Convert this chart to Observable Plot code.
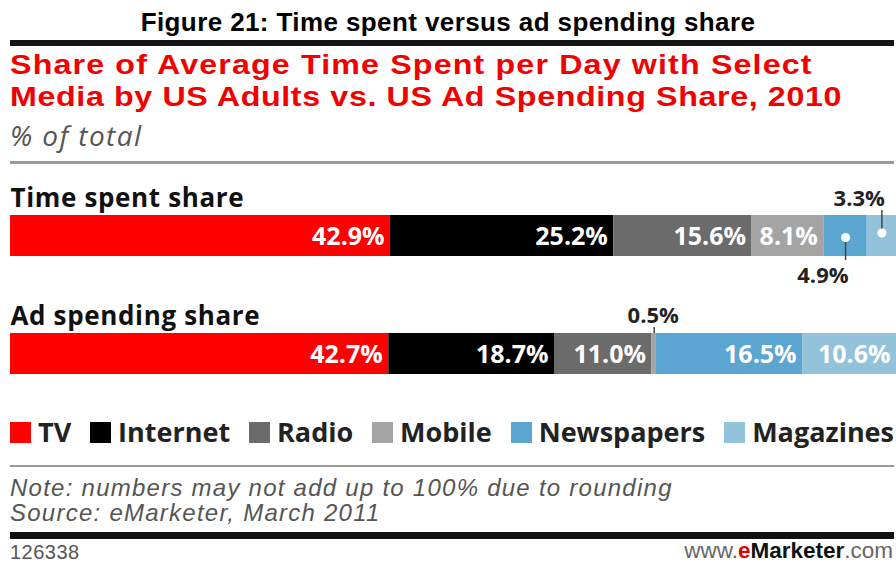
<!DOCTYPE html>
<html>
<head>
<meta charset="utf-8">
<script src="https://cdn.jsdelivr.net/npm/d3@7"></script>
<script src="https://cdn.jsdelivr.net/npm/@observablehq/plot@0.6"></script>
<style>
  html, body { margin: 0; padding: 0; background: #fff; }
  body { width: 896px; height: 563px; position: relative; overflow: hidden; font-family: "Open Sans", sans-serif; }
  .abs { position: absolute; white-space: nowrap; }
  #fig { left: 0; width: 896px; top: 9px; text-align: center; font: bold 26px/26px "Liberation Sans", Arial, sans-serif; letter-spacing: 0.4px; color: #000; }
  .rule { position: absolute; left: 10px; width: 884px; }
  #topThick { top: 40px; height: 6px; background: #161616; }
  #subThin { top: 161px; height: 3px; background: #9a9a9a; }
  #botThin { top: 465px; height: 2px; background: #9a9a9a; }
  #botThick { top: 532px; height: 7px; background: #111; }
  .red { left: 10px; font: bold 28px/32px "Liberation Sans", Arial, sans-serif; color: #f20000; transform: scaleX(1.15); transform-origin: 0 0; }
  #red1 { top: 49px; letter-spacing: 1px; }
  #red2 { top: 81px; letter-spacing: 0.55px; }
  #unit { left: 10px; top: 121px; font: italic 28px/28px "Open Sans", sans-serif; color: #555; letter-spacing: 1.4px; }
  #chart { position: absolute; left: 0; top: 165px; }
  #legend { position: absolute; left: 10px; width: 884px; top: 418px; height: 28px; display: flex; justify-content: space-between; align-items: center; font: bold 27px/28px "Open Sans", sans-serif; color: #222; }
  #legend .item { display: flex; align-items: center; }
  #legend .item i { display: inline-block; width: 21px; height: 21px; margin-right: 7px; }
  .note { left: 10px; font: italic 24px/24px "Liberation Sans", Arial, sans-serif; color: #555; letter-spacing: 1.25px; }
  #note1 { top: 476px; }
  #note2 { top: 501px; }
  #footId { left: 10px; top: 542px; font: 20px/20px "Liberation Sans", Arial, sans-serif; color: #555; letter-spacing: 0.5px; }
  #footUrl { right: 3px; top: 540px; font: 22.5px/22px "Liberation Sans", Arial, sans-serif; color: #666; }
  #footUrl b.e { color: #e00000; }
  #footUrl b.m { color: #111; }
</style>
</head>
<body>
<div id="fig" class="abs">Figure 21: Time spent versus ad spending share</div>
<div id="topThick" class="rule"></div>
<div id="red1" class="abs red">Share of Average Time Spent per Day with Select</div>
<div id="red2" class="abs red">Media by US Adults vs. US Ad Spending Share, 2010</div>
<div id="unit" class="abs">% of total</div>
<div id="subThin" class="rule"></div>
<div id="chart"></div>
<div id="legend"></div>
<div id="botThin" class="rule"></div>
<div id="note1" class="abs note">Note: numbers may not add up to 100% due to rounding</div>
<div id="note2" class="abs note">Source: eMarketer, March 2011</div>
<div id="botThick" class="rule"></div>
<div id="footId" class="abs">126338</div>
<div id="footUrl" class="abs">www.<b class="e">e</b><b class="m">Marketer</b>.com</div>
<script>
// ---- data ----
const media = ["TV", "Internet", "Radio", "Mobile", "Newspapers", "Magazines"];
const colors = ["#ff0000", "#000000", "#6b6b6b", "#a4a4a4", "#5ba6d1", "#93c3da"];
const rows = ["Time spent share", "Ad spending share"];
const timeSpent = [42.9, 25.2, 15.6, 8.1, 4.9, 3.3];
const adSpending = [42.7, 18.7, 11.0, 0.5, 16.5, 10.6];

// build table (stack offsets computed from the values)
const data = [];
[timeSpent, adSpending].forEach((vals, i) => {
  let c = 0;
  vals.forEach((v, j) => {
    data.push({row: rows[i], media: media[j], value: v, x1: c, x2: c + v, mid: c + v / 2});
    c += v;
  });
});
const fmt = d => d.value.toFixed(1) + "%";
const inside = data.filter(d => d.value >= 6);
const small = data.filter(d => d.value < 6);
const timeBelow = small.filter(d => d.row === rows[0] && d.media === "Newspapers");
const timeAbove = small.filter(d => d.row === rows[0] && d.media === "Magazines");
const adAbove = small.filter(d => d.row === rows[1]);

const labelFont = {fontFamily: "Open Sans, sans-serif", fontWeight: "bold"};

const chart = Plot.plot({
  width: 896,
  height: 235,
  margin: 0,
  style: {background: "transparent", overflow: "visible"},
  x: {domain: [0, 100], range: [10, 896], axis: null},
  y: {domain: rows, range: [50, 209], paddingInner: 0.653, paddingOuter: 0, axis: null},
  color: {domain: media, range: colors},
  marks: [
    Plot.barX(data, {x1: "x1", x2: "x2", y: "row", fill: "media"}),
    // row titles
    Plot.text(rows, {x: () => 0, y: d => d, text: d => d, textAnchor: "start", lineAnchor: "bottom", dy: -29.5, fontSize: 26, fill: "#111", ...labelFont}),
    // inside labels
    Plot.text(inside, {x: "x2", y: "row", text: fmt, fill: "white", textAnchor: "end", dx: -6, lineAnchor: "bottom", dy: 8.5, fontSize: 25, ...labelFont}),
    // callout leaders
    Plot.tickX(timeAbove, {x: "mid", y: "row", stroke: "#444", strokeWidth: 1.5, insetTop: -5, insetBottom: 24}),
    Plot.tickX(timeBelow, {x: "mid", y: "row", stroke: "#444", strokeWidth: 1.5, insetTop: 22, insetBottom: -4}),
    Plot.tickX(adAbove, {x: "mid", y: "row", stroke: "#444", strokeWidth: 1.5, insetTop: -6, insetBottom: 41}),
    Plot.dot(timeAbove, {x: "mid", y: "row", r: 4.5, fill: "white", dy: -3}),
    Plot.dot(timeBelow, {x: "mid", y: "row", r: 4.5, fill: "white", dy: 1.5}),
    // callout labels
    Plot.text(timeAbove, {x: "mid", y: "row", text: fmt, textAnchor: "end", dx: 3, lineAnchor: "bottom", dy: -30.5, fontSize: 22, fill: "#222", ...labelFont}),
    Plot.text(timeBelow, {x: "mid", y: "row", text: fmt, textAnchor: "end", dx: 3, lineAnchor: "bottom", dy: 46.5, fontSize: 22, fill: "#222", ...labelFont}),
    Plot.text(adAbove, {x: "mid", y: "row", text: fmt, textAnchor: "middle", dx: -1, lineAnchor: "bottom", dy: -31.5, fontSize: 22, fill: "#222", ...labelFont})
  ]
});
// widen the row titles slightly (letter spacing is not a Plot option)
const textGroups = chart.querySelectorAll('g[aria-label="text"]');
if (textGroups[0]) textGroups[0].setAttribute("letter-spacing", "0.65");
document.getElementById("chart").appendChild(chart);

// legend built from the same categories and colours
const leg = document.getElementById("legend");
media.forEach((m, i) => {
  const it = document.createElement("span");
  it.className = "item";
  const sw = document.createElement("i");
  sw.style.background = colors[i];
  it.appendChild(sw);
  it.appendChild(document.createTextNode(m));
  leg.appendChild(it);
});
</script>
</body>
</html>
